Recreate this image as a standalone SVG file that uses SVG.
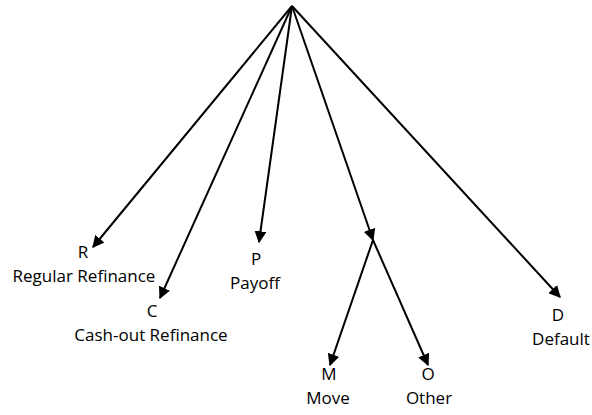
<svg xmlns="http://www.w3.org/2000/svg" width="592" height="415" viewBox="0 0 592 415">
<style>
.e{stroke:#000;stroke-width:2;fill:none;marker-end:url(#ah)}
.t{font-family:"Open Sans","DejaVu Sans",sans-serif;font-size:17px;fill:#000;text-anchor:middle}
</style>
<defs>
<marker id="ah" viewBox="0 0 10 10" refX="9" refY="5" markerWidth="6" markerHeight="6" markerUnits="strokeWidth" orient="auto">
<path d="M0,0 L10,5 L0,10 z" fill="#000"/>
</marker>
</defs>
<rect width="592" height="415" fill="#fff"/>
<g id="connectors">
<path class="e" d="M292,6 L93,247"/>
<path class="e" d="M292,6 L160,298"/>
<path class="e" d="M292,6 L259,242"/>
<path class="e" d="M292,6 L373,240"/>
<path class="e" d="M292,6 L560,297"/>
<path class="e" d="M373,240 L330,365"/>
<path class="e" d="M373,240 L428,365"/>
</g>
<g id="R"><text class="t" x="83" y="258">R</text><text class="t" x="84" y="282">Regular Refinance</text></g>
<g id="C"><text class="t" x="152" y="317">C</text><text class="t" x="151" y="341">Cash-out Refinance</text></g>
<g id="P"><text class="t" x="256" y="265">P</text><text class="t" x="255" y="289">Payoff</text></g>
<g id="D"><text class="t" x="558" y="321">D</text><text class="t" x="561" y="345">Default</text></g>
<g id="M"><text class="t" x="329" y="380">M</text><text class="t" x="328" y="404">Move</text></g>
<g id="O"><text class="t" x="428" y="380">O</text><text class="t" x="429" y="404">Other</text></g>
</svg>
